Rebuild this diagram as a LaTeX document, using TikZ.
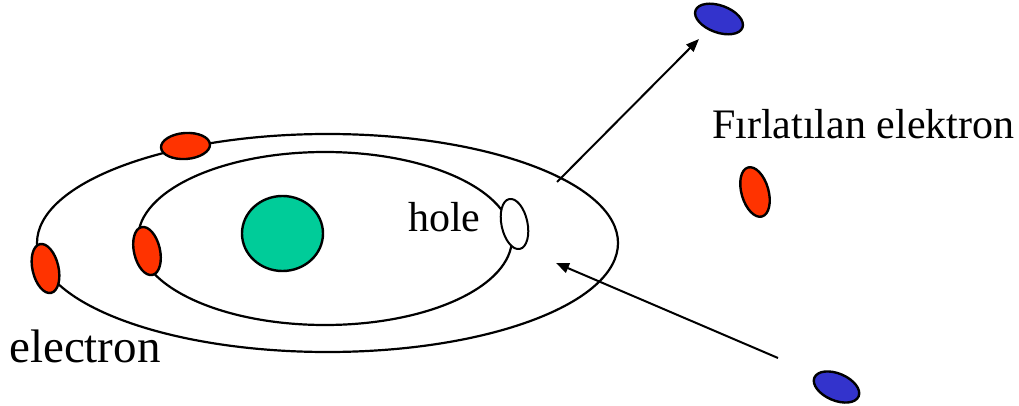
\documentclass[tikz,border=0pt]{standalone}
\usepackage{fontspec}
\setmainfont{Liberation Serif}
\usetikzlibrary{shapes.geometric,arrows.meta}

\definecolor{nucleusgreen}{HTML}{00CC99}
\definecolor{electronred}{HTML}{FF3300}
\definecolor{particleblue}{HTML}{3333CC}

\tikzset{
  orbit/.style={ellipse, draw=black, line width=2.2pt, inner sep=0pt},
  particle/.style={ellipse, draw=black, line width=2.4pt, inner sep=0pt},
  electronpt/.style={particle, fill=electronred},
  holept/.style={particle, fill=white, line width=2pt},
  incoming/.style={particle, fill=particleblue},
  nucleus/.style={ellipse, draw=black, line width=2.4pt, fill=nucleusgreen, inner sep=0pt},
  path/.style={draw=black, line width=2pt, -{Triangle[length=13pt,width=10pt]}},
  label/.style={anchor=base west, inner sep=0pt, text=black}
}

\begin{document}
\begin{tikzpicture}[x=1pt, y=-1pt]
  \useasboundingbox (0,0) rectangle (1019,406);

  % electron shells
  \node[orbit, minimum width=581pt, minimum height=218pt] (outer) at (327.5,243) {};
  \node[orbit, minimum width=374pt, minimum height=173pt] (inner) at (325,238.5) {};

  % nucleus
  \node[nucleus, minimum width=81pt, minimum height=75pt] (nuc) at (282.5,233.5) {};

  % bound electrons and the vacancy
  \node[electronpt, rotate=4, minimum width=49pt, minimum height=26pt] (etop) at (185.5,146) {};
  \node[electronpt, rotate=13, minimum width=26pt, minimum height=50pt] (eleft) at (45.5,268.5) {};
  \node[electronpt, rotate=13, minimum width=26pt, minimum height=49pt] (einner) at (147,251) {};
  \node[holept, rotate=12, minimum width=26pt, minimum height=51pt] (hole) at (514.5,224) {};

  % free electrons
  \node[electronpt, rotate=16, minimum width=27pt, minimum height=51pt] (efree) at (755,192) {};
  \node[incoming, rotate=-20, minimum width=50pt, minimum height=27pt] (eout) at (719,19) {};
  \node[incoming, rotate=-23, minimum width=48pt, minimum height=27pt] (ein) at (836.5,387) {};

  % trajectories
  \coordinate (exitpt) at (557,182);
  \coordinate (outtip) at (699,39);
  \coordinate (instart) at (778,358);
  \coordinate (intip) at (556,263);
  \draw[path] (exitpt) -- (outtip);
  \draw[path] (instart) -- (intip);

  % labels
  \node[label, font=\fontsize{42pt}{48pt}\selectfont] (holelbl) at (408,231) {hole};
  \node[label, font=\fontsize{42pt}{48pt}\selectfont] (ejlbl) at (712,139) {Fırlatılan elektron};
  \node[label, font=\fontsize{47pt}{54pt}\selectfont] (elbl) at (9,362) {electron};
\end{tikzpicture}
\end{document}
